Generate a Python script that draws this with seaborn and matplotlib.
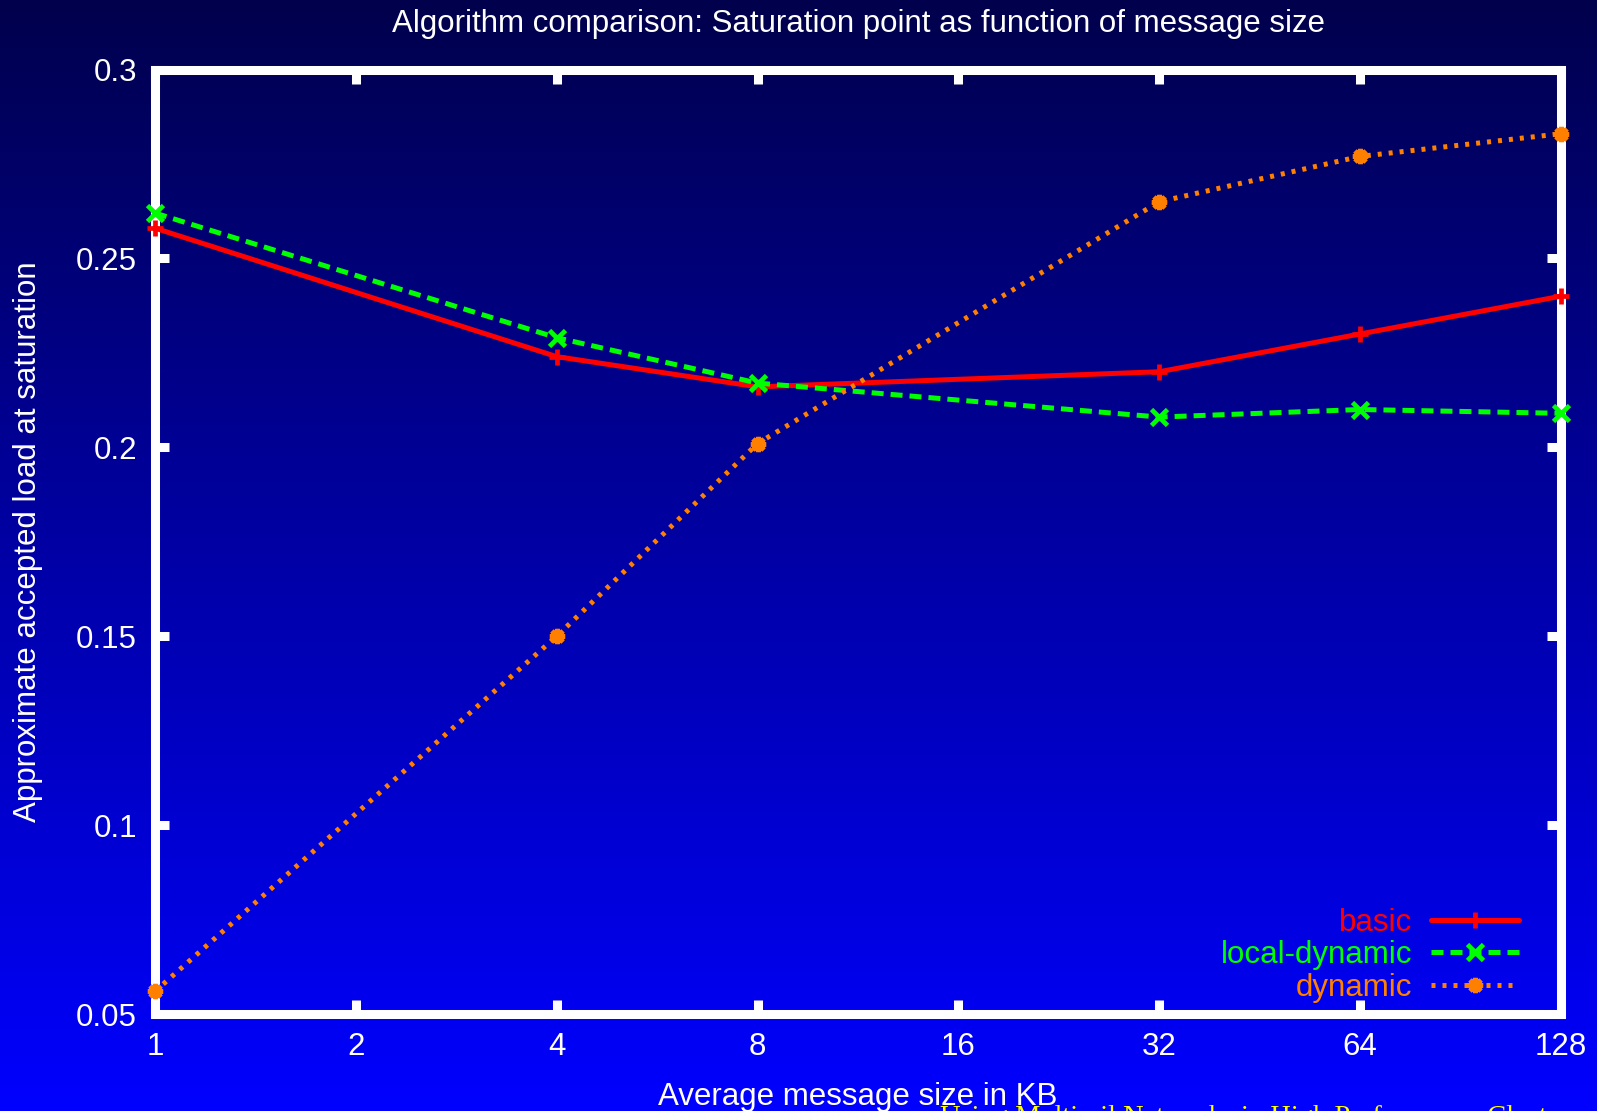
import numpy as np
import pandas as pd
import matplotlib
matplotlib.use("Agg")
import matplotlib.pyplot as plt
import seaborn as sns

# ---- data ----
msg_sizes = [1, 4, 8, 32, 64, 128]
basic = [0.258, 0.224, 0.216, 0.220, 0.230, 0.240]
local_dynamic = [0.262, 0.229, 0.217, 0.208, 0.210, 0.209]
dynamic = [0.056, 0.150, 0.201, 0.265, 0.277, 0.283]
x_ticks = [1, 2, 4, 8, 16, 32, 64, 128]
y_ticks = [0.05, 0.1, 0.15, 0.2, 0.25, 0.3]
y_tick_labels = ["0.05", "0.1", "0.15", "0.2", "0.25", "0.3"]

sns.set_theme(style="white")
plt.rcParams['font.family'] = ['Liberation Sans', 'DejaVu Sans']

W, H = 1597, 1111
FS = 22.5
fig = plt.figure(figsize=(W / 100, H / 100), dpi=100)

# gradient background
bg = fig.add_axes([0, 0, 1, 1], zorder=-10)
grad = np.linspace(0, 1, 256).reshape(-1, 1)
top = np.array([0.0, 0.0, 0.30])
bot = np.array([0.0, 0.0, 1.0])
img = top[None, None, :] * (1 - grad[:, :, None]) + bot[None, None, :] * grad[:, :, None]
bg.imshow(img, aspect='auto', extent=[0, 1, 0, 1], origin='upper')
bg.set_axis_off()

left, right = 155 / W, 1561 / W
bottom, topp = 1 - 1014 / H, 1 - 69.5 / H
ax = fig.add_axes([left, bottom, right - left, topp - bottom])
ax.set_facecolor('none')

series = [
    ("basic", basic, "#FF0000", "+", None, 12),
    ("local-dynamic", local_dynamic, "#00FF00", "x", (2.4, 1.4), 11),
    ("dynamic", dynamic, "#FF8000", (8, 2, 0), (0.8, 1.4), 11),
]
for name, vals, col, mk, dash, ms in series:
    df = pd.DataFrame({"size": msg_sizes, "load": vals})
    kw = dict(color=col, linewidth=3.6, marker=mk, markersize=ms,
              markeredgewidth=3.4, markeredgecolor=col, label=name,
              clip_on=False, zorder=5)
    if dash is not None:
        kw["dashes"] = dash
    else:
        kw["linestyle"] = "-"
    sns.lineplot(data=df, x="size", y="load", ax=ax, **kw)

ax.set_xscale('log', base=2)
ax.set_xlim(1, 128)
ax.set_ylim(0.05, 0.3)
ax.set_xticks(x_ticks)
ax.set_xticklabels([str(v) for v in x_ticks])
ax.set_yticks(y_ticks)
ax.set_yticklabels(y_tick_labels)
ax.minorticks_off()

for s in ax.spines.values():
    s.set_color('white')
    s.set_linewidth(6.5)
    s.set_visible(True)
ax.tick_params(axis='both', which='major', direction='in', length=10, width=6.5,
               color='white', labelcolor='white', labelsize=FS,
               top=True, right=True, bottom=True, left=True)
ax.tick_params(axis='x', pad=13)
ax.tick_params(axis='y', pad=13)

ax.set_xlabel("Average message size in KB", color='white', fontsize=FS, labelpad=14)
ax.set_ylabel("Approximate accepted load at saturation", color='white', fontsize=FS, labelpad=24)
fig.text(0.5 * (left + right), 1 - 24 / H, "Algorithm comparison: Saturation point as function of message size",
         color='white', fontsize=FS, ha='center', va='center')

leg = ax.legend(loc='lower right', bbox_to_anchor=(0.99, -0.018), frameon=False,
                markerfirst=False, labelcolor='linecolor', fontsize=FS,
                handlelength=2.8, labelspacing=0.08, handletextpad=0.6, borderpad=0.4)

fig.text(940 / W, 1 - 1124 / H, "Using Multirail Networks in High Performance Clusters",
         color='#FFFF00', fontsize=20.5, ha='left', va='baseline',
         family=['Liberation Serif', 'DejaVu Serif'])

fig.savefig("out.png", dpi=100)
